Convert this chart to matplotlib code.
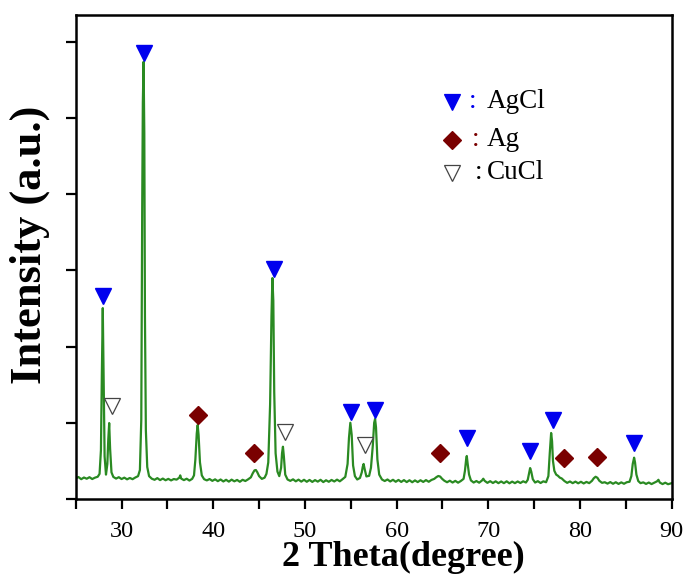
import matplotlib
matplotlib.use("Agg")
import matplotlib.pyplot as plt
from matplotlib.ticker import MultipleLocator

plt.rcParams["font.family"] = ["Liberation Serif", "DejaVu Serif"]

# XRD pattern (2 theta in degree, intensity in a.u.)
two_theta = [
    25.0, 25.3, 25.6, 25.9, 26.2, 26.5, 26.8, 27.1, 27.4, 27.6,
    27.75, 27.85, 27.95, 28.05, 28.15, 28.3, 28.45, 28.55, 28.65, 28.75, 28.9, 29.1,
    29.4, 29.7, 30.0, 30.3, 30.6, 30.9, 31.2, 31.5, 31.8, 32.0,
    32.15, 32.25, 32.32, 32.4, 32.48, 32.55, 32.65, 32.8, 33.0,
    33.3, 33.6, 33.9, 34.2, 34.5, 34.8, 35.1, 35.4, 35.7, 36.0,
    36.3, 36.4, 36.5, 36.8, 37.1, 37.4, 37.7, 37.9, 38.05, 38.2, 38.3, 38.4, 38.55, 38.75, 39.0,
    39.3, 39.6, 39.9, 40.2, 40.5, 40.8, 41.1, 41.4, 41.7, 42.0, 42.3, 42.6, 42.9, 43.2, 43.5, 43.8, 44.1,
    44.3, 44.5, 44.65, 44.8, 45.0, 45.3, 45.6, 45.8, 46.0, 46.2, 46.35, 46.45, 46.55, 46.65, 46.8,
    47.0, 47.2, 47.4, 47.5, 47.6, 47.7, 47.85, 48.1,
    48.4, 48.7, 49.0, 49.3, 49.6, 49.9, 50.2, 50.5, 50.8, 51.1, 51.4, 51.7, 52.0, 52.3, 52.6,
    52.9, 53.2, 53.5, 53.8, 54.1, 54.4,
    54.65, 54.8, 54.95, 55.1, 55.25, 55.45, 55.7, 56.0, 56.2, 56.3, 56.4, 56.5, 56.7, 57.0, 57.2,
    57.4, 57.55, 57.65, 57.75, 57.9, 58.1, 58.4,
    58.7, 59.0, 59.3, 59.6, 59.9, 60.2, 60.5, 60.8, 61.1, 61.4, 61.7, 62.0, 62.3, 62.6, 62.9,
    63.2, 63.5, 63.8, 64.1,
    64.35, 64.55, 64.75, 64.95, 65.2, 65.5, 65.8, 66.1, 66.4, 66.7, 67.0, 67.3, 67.45, 67.58,
    67.65, 67.75, 67.9, 68.1,
    68.4, 68.7, 69.0, 69.3, 69.45, 69.6, 69.9, 70.2, 70.5, 70.8, 71.1, 71.4, 71.7, 72.0, 72.3,
    72.6, 72.9, 73.2, 73.5, 73.8, 74.1, 74.3,
    74.45, 74.56, 74.68, 74.85, 75.1, 75.4, 75.7, 76.0, 76.3, 76.55, 76.7, 76.85, 76.95, 77.05,
    77.2, 77.4, 77.6, 77.8, 78.0, 78.3,
    78.6, 78.9, 79.2, 79.5, 79.8, 80.1, 80.4, 80.7, 81.0, 81.3, 81.5, 81.7, 81.9, 82.1, 82.4,
    82.7, 83.0, 83.3, 83.6, 83.9, 84.2, 84.5, 84.8, 85.1, 85.4, 85.6, 85.75, 85.9, 86.0, 86.15,
    86.35, 86.6,
    86.9, 87.2, 87.5, 87.8, 88.1, 88.4, 88.55, 88.7, 89.0, 89.3, 89.6, 90.0,
]
intensity = [
    136, 144, 130, 141, 133, 143, 131, 140, 146, 165,
    320, 820, 1252, 760, 280, 160, 230, 390, 498, 330, 175, 145,
    134, 143, 131, 140, 129, 138, 130, 141, 150, 190,
    520, 1900, 2600, 2867, 2400, 1200, 450, 210, 150,
    133, 126, 137, 124, 134, 123, 132, 122, 131, 127,
    140, 155, 134, 124, 133, 121, 132, 155, 260, 430, 485, 420, 240, 155, 130,
    122, 131, 119, 129, 117, 128, 115, 126, 114, 127, 116, 125, 113, 126, 118, 129, 142,
    168, 188, 190, 176, 150, 132, 140, 165, 240, 620, 1200, 1449, 1300, 700, 300,
    180, 150, 205, 300, 343, 280, 160, 128,
    119, 129, 116, 127, 114, 126, 113, 125, 112, 124, 114, 126, 111, 123, 113,
    125, 115, 127, 116, 130, 145,
    230, 400, 500, 420, 220, 150, 128, 138, 175, 210, 230, 200, 148, 152, 205,
    350, 500, 525, 470, 260, 160, 128,
    118, 128, 115, 126, 113, 125, 112, 124, 111, 123, 110, 122, 111, 123, 112,
    124, 113, 125, 132,
    144, 151, 147, 133, 120, 110, 120, 108, 119, 107, 118, 132, 185, 260,
    282, 230, 160, 122,
    108, 118, 107, 121, 133, 119, 106, 117, 105, 116, 104, 115, 104, 116, 103,
    114, 104, 115, 105, 116, 108, 126,
    172, 203, 180, 130, 108, 117, 105, 116, 110, 150, 300, 433, 380, 250,
    185, 160, 152, 140, 135, 118,
    106, 115, 104, 114, 103, 113, 102, 112, 104, 119, 136, 146, 139, 120, 106,
    110, 101, 111, 100, 110, 99, 109, 100, 110, 113, 150, 230, 271, 240, 160,
    118, 104,
    109, 99, 108, 98, 107, 116, 126, 108, 98, 107, 97, 104,
]

# phase markers
agcl_x = [27.95, 32.49, 46.59, 55.04, 57.66, 67.71, 74.55, 77.0, 85.91]
agcl_y = [1331, 2925, 1508, 570, 584, 400, 316, 518, 369]
ag_x = [38.39, 44.48, 64.69, 78.27, 81.84]
ag_y = [551, 304, 300, 267, 273]
cucl_x = [28.93, 47.86, 56.5]
cucl_y = [610, 441, 354]

fig = plt.figure(figsize=(6.89, 5.82), dpi=100)
ax = fig.add_axes([0.1099, 0.1426, 0.865, 0.8316])

ax.plot(two_theta, intensity, color="#2a8a22", lw=1.6)
ax.plot(agcl_x, agcl_y, "v", color="#0000ee", ms=11, mec="#0000ee", ls="none")
ax.plot(ag_x, ag_y, "D", color="#7a0000", ms=9, mec="#7a0000", ls="none")
ax.plot(cucl_x, cucl_y, "v", mfc="white", mec="#444444", mew=0.9, ms=11, ls="none")

# legend drawn by hand, as in the figure
lx, tx = 0.631, 0.690
rows = [(0.821, "v", "#0000ee", "#0000ee", "#0000ee", 0.659, "AgCl"),
        (0.742, "D", "#7a0000", "#7a0000", "#7a0000", 0.665, "Ag"),
        (0.674, "v", "white", "#444444", "black", 0.670, "CuCl")]
for y, m, fc, ec, cc, cx, label in rows:
    ax.plot([lx], [y], m, mfc=fc, mec=ec, ms=11 if m == "v" else 9,
            mew=0.9, transform=ax.transAxes, ls="none")
    ax.text(cx, y, ":", color=cc, fontsize=19.5, va="center", ha="left",
            transform=ax.transAxes)
    ax.text(tx, y, label, color="black", fontsize=19.5, va="center", ha="left",
            transform=ax.transAxes)

ax.set_xlim(25, 90)
ax.set_ylim(0, 3174)
ax.xaxis.set_major_locator(MultipleLocator(10))
ax.xaxis.set_minor_locator(MultipleLocator(5))
ax.yaxis.set_major_locator(MultipleLocator(1000))
ax.yaxis.set_minor_locator(MultipleLocator(500))
ax.set_yticklabels([])
ax.tick_params(which="both", direction="out", length=7, width=1.6)
ax.tick_params(axis="x", labelsize=17.5, pad=9)
for s in ax.spines.values():
    s.set_linewidth(1.8)

ax.set_xlabel("2 Theta(degree)", fontsize=26, fontweight="bold")
ax.set_ylabel("Intensity (a.u.)", fontsize=32, fontweight="bold")
ax.xaxis.set_label_coords(0.549, -0.087)
ax.yaxis.set_label_coords(-0.043, 0.525)

fig.savefig("out.png", dpi=100)
